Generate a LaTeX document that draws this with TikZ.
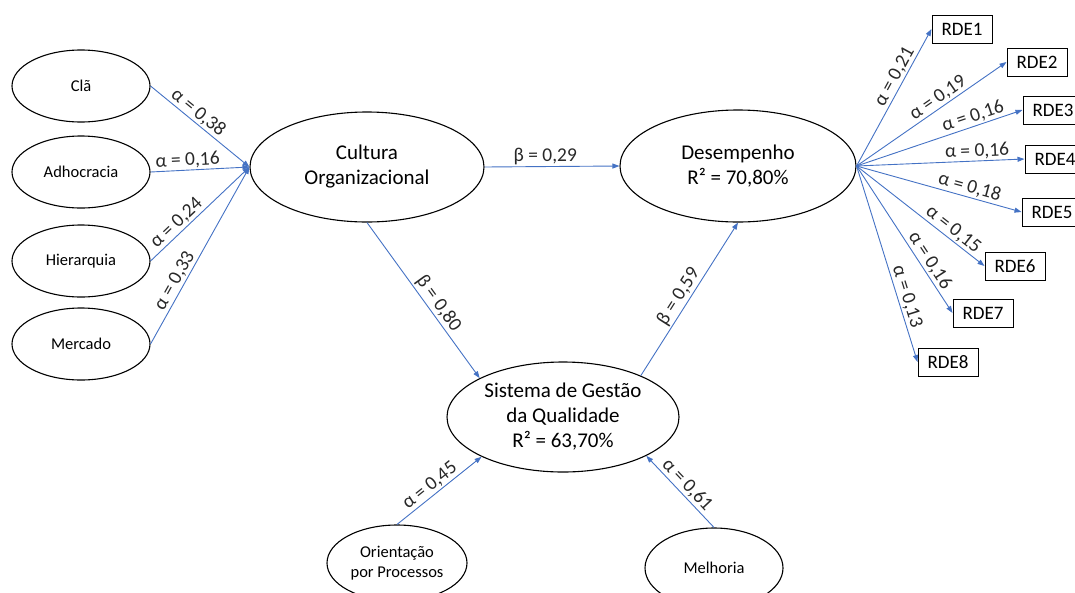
\documentclass[tikz,border=0pt]{standalone}
\usepackage{fontspec}
\setmainfont{Carlito}
\usetikzlibrary{arrows.meta, shapes.geometric}
\definecolor{pathblue}{RGB}{68, 114, 196}
\definecolor{labelgray}{RGB}{40, 40, 40}

\begin{document}
\begin{tikzpicture}[x=1pt, y=-1pt,
          lat/.style={ellipse, draw, line width=1.1pt,
                      inner sep=0pt, align=center,
                      font=\fontsize{21}{25}\selectfont},
          dim/.style={ellipse, draw, line width=1.1pt,
                      inner sep=0pt, align=center,
                      minimum width=138pt, minimum height=72pt,
                      font=\fontsize{16.5}{20}\selectfont},
          ind/.style={rectangle, draw, line width=1pt,
                      minimum width=60pt, minimum height=28pt,
                      inner sep=0pt, font=\fontsize{19}{22}\selectfont},
          lnk/.style={draw=pathblue, line width=0.9pt,
                      -{Triangle[length=7pt, width=5pt]}},
          coef/.style={sloped, above, inner sep=1.5pt, text=labelgray,
                       font=\fontsize{19.5}{22}\selectfont},
      ]
      \useasboundingbox (0,0) rectangle (1075,592);
      \node[dim] (cla) at (81, 86) {Clã};
      \node[dim] (adh) at (81, 172) {Adhocracia};
      \node[dim] (hie) at (81, 261) {Hierarquia};
      \node[dim] (mer) at (81, 344) {Mercado};
      \node[lat, minimum width=234pt, minimum height=110pt] (cult)
          at (367, 167) {Cultura\\Organizacional};
      \node[lat, minimum width=236pt, minimum height=112pt] (des)
          at (738, 166) {Desempenho\\R² = 70,80\%};
      \node[lat, minimum width=232pt, minimum height=110pt] (sgq)
          at (563, 417) {Sistema de Gestão\\da Qualidade\\R² = 63,70\%};
      \node[dim, minimum width=140pt, minimum height=76pt] (ori)
          at (397, 563) {Orientação\\por Processos};
      \node[dim, minimum height=80pt] (mel)
          at (714, 568) {Melhoria};
      \draw[lnk] (cla.east) -- node[coef, pos=0.42] {α = 0,38} (cult.west);
      \draw[lnk] (adh.east) -- node[coef, pos=0.38] {α = 0,16} (cult.west);
      \draw[lnk] (hie.east) -- node[coef, pos=0.33] {α = 0,24} (cult.west);
      \draw[lnk] (mer.east) -- node[coef, pos=0.33] {α = 0,33} (cult.west);
      \draw[lnk] (cult.east) -- node[coef, pos=0.45] {β = 0,29} (des.west);
      \draw[lnk] (cult.south) -- node[coef, pos=0.56] {β = 0,80} (sgq.155);
      \draw[lnk] (sgq.28) -- node[coef, pos=0.48] {β = 0,59} (des.south);
      \draw[lnk] (ori.north) -- node[coef, pos=0.46] {α = 0,45} (sgq.206);
      \draw[lnk] (mel.north) -- node[coef, pos=0.50] {α = 0,61} (sgq.-25);
      \foreach \n/\x/\y/\a/\p in {1/962/29/{0,21}/0.62, 2/1037/62/{0,19}/0.58,
              3/1053/110/{0,16}/0.72, 4/1055/159/{0,16}/0.72,
              5/1052/212/{0,18}/0.67, 6/1015/266/{0,15}/0.71,
              7/983/313/{0,16}/0.68, 8/948/362/{0,13}/0.68} {
          \node[ind] (rde\n) at (\x, \y) {RDE\n};
          \draw[lnk] (des.east) -- node[coef, pos=\p] {α = \a} (rde\n.west);
      }
      \end{tikzpicture}
\end{document}
